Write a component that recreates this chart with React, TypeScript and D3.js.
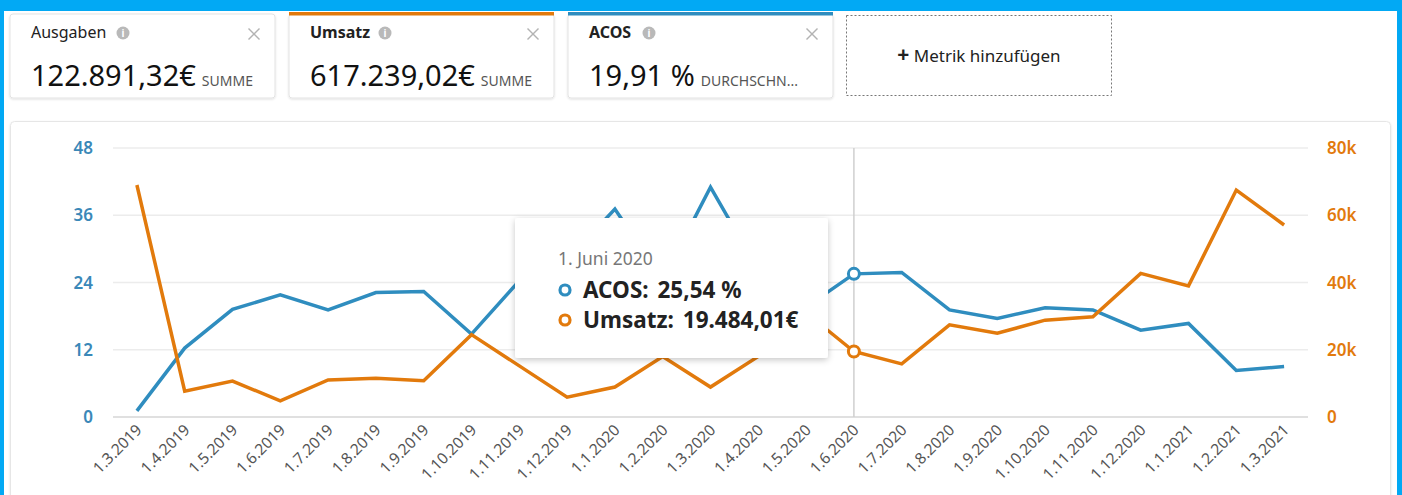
import React from "react";
import * as d3 from "d3";

// ---- data ----
const months = [
  "1.3.2019", "1.4.2019", "1.5.2019", "1.6.2019", "1.7.2019", "1.8.2019",
  "1.9.2019", "1.10.2019", "1.11.2019", "1.12.2019", "1.1.2020", "1.2.2020",
  "1.3.2020", "1.4.2020", "1.5.2020", "1.6.2020", "1.7.2020", "1.8.2020",
  "1.9.2020", "1.10.2020", "1.11.2020", "1.12.2020", "1.1.2021", "1.2.2021",
  "1.3.2021",
];
const acos = [
  1.1, 12.3, 19.2, 21.8, 19.1, 22.2, 22.4, 14.8, 24.3, 28.0, 37.1, 24.5, 41.0,
  26.2, 19.6, 25.54, 25.8, 19.1, 17.6, 19.5, 19.1, 15.5, 16.7, 8.3, 9.0,
];
const umsatz = [
  69000, 7700, 10700, 4800, 11000, 11500, 10800, 24500, 15200, 5900, 8900,
  18000, 8900, 18000, 31000, 19484.01, 15800, 27400, 24900, 28800, 29800,
  42700, 39000, 67500, 57100,
];
const leftTicks = [0, 12, 24, 36, 48];
const rightTicks = [0, 20000, 40000, 60000, 80000];

const cardTitles = ["Ausgaben", "Umsatz", "ACOS"];
const cardValues = ["122.891,32€", "617.239,02€", "19,91 %"];
const cardAggs = ["SUMME", "SUMME", "DURCHSCHN..."];

const hoverIndex = 15;
const tooltipDate = "1. Juni 2020";
const tooltipAcos = "25,54 %";
const tooltipUmsatz = "19.484,01€";

const W = 1402;
const H = 495;
const BLUE = "#2f8dbf";
const ORANGE = "#e27a0c";
const FONT = "'Noto Sans', 'Open Sans', sans-serif";

function InfoIcon({ x, y }: { x: number; y: number }) {
  return (
    <g transform={`translate(${x},${y})`}>
      <circle r={6.5} fill="#b9b9b9" />
      <text y={4} textAnchor="middle" fontSize={10} fontWeight={700} fill="#fff" fontFamily={FONT}>i</text>
    </g>
  );
}

function Close({ x, y }: { x: number; y: number }) {
  return (
    <g transform={`translate(${x},${y})`} stroke="#b3b3b3" strokeWidth={1.4}>
      <line x1={-5.5} y1={-5.5} x2={5.5} y2={5.5} />
      <line x1={-5.5} y1={5.5} x2={5.5} y2={-5.5} />
    </g>
  );
}

export default function App() {
  const x = d3.scalePoint<string>().domain(months).range([113, 1308]).padding(0.5);
  const yL = d3.scaleLinear().domain([0, 48]).range([417, 148]);
  const yR = d3.scaleLinear().domain([0, 80000]).range([417, 148]);

  const acosLine = d3.line<number>().x((_, i) => x(months[i])!).y((d) => yL(d));
  const umsatzLine = d3.line<number>().x((_, i) => x(months[i])!).y((d) => yR(d));

  const cardX = [10, 289, 568];
  const accents = [null, ORANGE, BLUE];
  const hx = x(months[hoverIndex])!;

  return (
    <svg
      width={W}
      height={H}
      style={{ position: "absolute", left: 0, top: 0, background: "#fff" }}
      fontFamily={FONT}
    >
      <defs>
        <filter id="sh" x="-20%" y="-20%" width="140%" height="150%">
          <feDropShadow dx={0} dy={2} stdDeviation={3} floodColor="#000" floodOpacity={0.22} />
        </filter>
        <filter id="csh" x="-5%" y="-20%" width="110%" height="140%">
          <feDropShadow dx={0} dy={1} stdDeviation={1.2} floodColor="#000" floodOpacity={0.12} />
        </filter>
      </defs>

      {/* metric cards */}
      {cardTitles.map((t, i) => (
        <g key={t} transform={`translate(${cardX[i]},14)`}>
          <rect width={265} height={84} rx={3} fill="#fff" stroke="#e3e3e3" filter="url(#csh)" />
          {accents[i] && <rect y={-2} width={265} height={3.5} fill={accents[i]!} />}
          <text x={21} y={24} fontSize={16} fill="#222" fontWeight={i === 0 ? 400 : 700}>{t}</text>
          <InfoIcon x={i === 0 ? 113 : i === 1 ? 96 : 81} y={19} />
          <Close x={244} y={20} />
          <text x={21} y={72} fontSize={29} fill="#111">
            {cardValues[i]}
            <tspan dx={6} fontSize={14} fill="#555">{cardAggs[i]}</tspan>
          </text>
        </g>
      ))}
      <g transform="translate(846.5,15.5)">
        <rect width={265} height={80} fill="#fff" stroke="#777" strokeDasharray="2,2" />
        <text x={132.5} y={46} textAnchor="middle" fontSize={17} fill="#222">
          <tspan fontSize={21} fontWeight={700}>+</tspan> Metrik hinzufügen
        </text>
      </g>

      {/* chart panel */}
      <rect x={10.5} y={121.5} width={1380} height={420} rx={4} fill="#fff" stroke="#e6e6e6" filter="url(#csh)" />

      {leftTicks.map((t) => (
        <line key={"g" + t} x1={113} x2={1308} y1={yL(t)} y2={yL(t)} stroke={t === 0 ? "#d6d6d6" : "#ececec"} strokeWidth={1.5} />
      ))}
      {leftTicks.map((t) => (
        <text key={"l" + t} x={93} y={yL(t) + 6} textAnchor="end" fontSize={17} fontWeight={600} fill="#3a88b8">{t}</text>
      ))}
      {rightTicks.map((t) => (
        <text key={"r" + t} x={1327} y={yR(t) + 6} fontSize={17} fontWeight={600} fill={ORANGE}>
          {t === 0 ? "0" : d3.format("~s")(t)}
        </text>
      ))}

      {months.map((m) => (
        <text
          key={m}
          transform={`translate(${x(m)! + 6},${431}) rotate(-45)`}
          textAnchor="end"
          fontSize={15.5}
          fill="#555"
        >
          {m}
        </text>
      ))}

      {/* hover crosshair */}
      <line x1={hx} x2={hx} y1={148} y2={417} stroke="#cfcfcf" strokeWidth={1.5} />

      <path d={acosLine(acos)!} fill="none" stroke={BLUE} strokeWidth={3.5} strokeLinejoin="miter" />
      <path d={umsatzLine(umsatz)!} fill="none" stroke={ORANGE} strokeWidth={3.5} strokeLinejoin="miter" />

      <circle cx={hx} cy={yL(acos[hoverIndex])} r={5.5} fill="#fff" stroke={BLUE} strokeWidth={3} />
      <circle cx={hx} cy={yR(umsatz[hoverIndex])} r={5.5} fill="#fff" stroke={ORANGE} strokeWidth={3} />

      {/* tooltip */}
      <g transform="translate(515,218)">
        <rect width={313} height={140} rx={3} fill="#fff" filter="url(#sh)" />
        <text x={43} y={47} fontSize={17.5} fill="#777">{tooltipDate}</text>
        <circle cx={50} cy={72} r={5} fill="#fff" stroke={BLUE} strokeWidth={3.2} />
        <text x={68} y={80} fontSize={22.5} fontWeight={700} fill="#222">
          ACOS: <tspan dx={3}>{tooltipAcos}</tspan>
        </text>
        <circle cx={50} cy={102} r={5} fill="#fff" stroke={ORANGE} strokeWidth={3.2} />
        <text x={68} y={110} fontSize={22.5} fontWeight={700} fill="#222">
          Umsatz: <tspan dx={3}>{tooltipUmsatz}</tspan>
        </text>
      </g>

      {/* outer blue frame */}
      <rect x={0} y={0} width={W} height={11} fill="#02a9f4" />
      <rect x={0} y={0} width={4} height={H} fill="#02a9f4" />
      <rect x={1397} y={0} width={5} height={H} fill="#02a9f4" />
    </svg>
  );
}
